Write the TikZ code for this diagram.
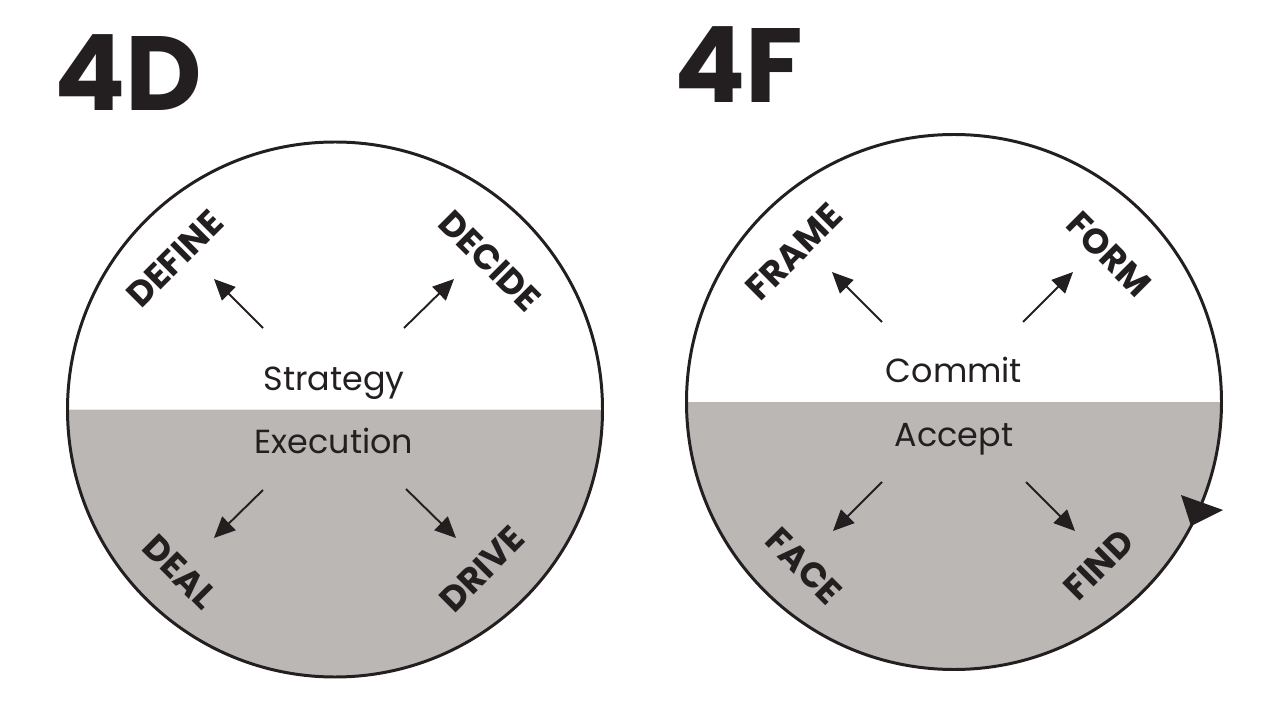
\documentclass[tikz,border=0pt]{standalone}
\usepackage{fontspec}
\setmainfont{Poppins}
\usetikzlibrary{arrows.meta}
\definecolor{ink}{RGB}{35,31,32}
\definecolor{halfgray}{RGB}{187,183,181}

\begin{document}
\begin{tikzpicture}[x=0.02cm, y=0.02cm,
        ring/.style = {draw=ink, line width=1.7pt},
        pointer/.style = {draw=ink, line width=1.1pt, -{Triangle[length=0.42cm, width=0.38cm]}},
        phase/.style = {text=ink, font=\fontsize{19}{21}\selectfont, anchor=base, inner sep=0pt},
        verb/.style = {text=ink, font=\fontsize{20}{22}\selectfont\bfseries, inner sep=0pt},
        title/.style = {text=ink, font=\fontsize{60}{64}\selectfont\bfseries, anchor=base west, inner sep=0pt}]
        \useasboundingbox (0,0) rectangle (1286,701);
        \pgfmathsetmacro{\r}{267.5};
        % left wheel: 4D
        \fill [halfgray] (67.5,291.5) arc [start angle=180, end angle=360, radius=\r] -- cycle;
        \draw [ring] (335,291.5) circle [radius=\r];
        \node [title] (t4d) at (54,590) {4D};
        \node [phase] (strategy) at (334,311) {Strategy};
        \node [phase] (execution) at (334,248) {Execution};
        \node [verb, rotate=45] (define) at (175,442) {DEFINE};
        \node [verb, rotate=-45] (decide) at (490,440) {DECIDE};
        \node [verb, rotate=-45] (deal) at (180,129) {DEAL};
        \node [verb, rotate=45] (drive) at (482,132) {DRIVE};
        \coordinate (define-s) at (263,373);
        \coordinate (define-e) at (214,422);
        \coordinate (decide-s) at (404,373);
        \coordinate (decide-e) at (454,422);
        \coordinate (deal-s) at (263,211);
        \coordinate (deal-e) at (214,163);
        \coordinate (drive-s) at (406,212);
        \coordinate (drive-e) at (456,163);
        \draw [pointer] (define-s) -- (define-e);
        \draw [pointer] (decide-s) -- (decide-e);
        \draw [pointer] (deal-s) -- (deal-e);
        \draw [pointer] (drive-s) -- (drive-e);
        % right wheel: 4F
        \fill [halfgray] (686,299) arc [start angle=180, end angle=360, radius=\r] -- cycle;
        \draw [ring] (954,299) circle [radius=\r];
        \fill [ink] (1181,206) -- (1223,191) -- (1191,175) -- cycle;
        \node [title] (t4f) at (674,598) {4F};
        \node [phase] (commit) at (954,318) {Commit};
        \node [phase] (accept) at (954,255) {Accept};
        \node [verb, rotate=45] (frame) at (794,449) {FRAME};
        \node [verb, rotate=-45] (form) at (1109,447) {FORM};
        \node [verb, rotate=-45] (face) at (804,135) {FACE};
        \node [verb, rotate=45] (find) at (1099,136) {FIND};
        \coordinate (frame-s) at (882,379);
        \coordinate (frame-e) at (832,429);
        \coordinate (form-s) at (1023,379);
        \coordinate (form-e) at (1073,429);
        \coordinate (face-s) at (882,219);
        \coordinate (face-e) at (833,170);
        \coordinate (find-s) at (1026,219);
        \coordinate (find-e) at (1075,170);
        \draw [pointer] (frame-s) -- (frame-e);
        \draw [pointer] (form-s) -- (form-e);
        \draw [pointer] (face-s) -- (face-e);
        \draw [pointer] (find-s) -- (find-e);
    \end{tikzpicture}
\end{document}
